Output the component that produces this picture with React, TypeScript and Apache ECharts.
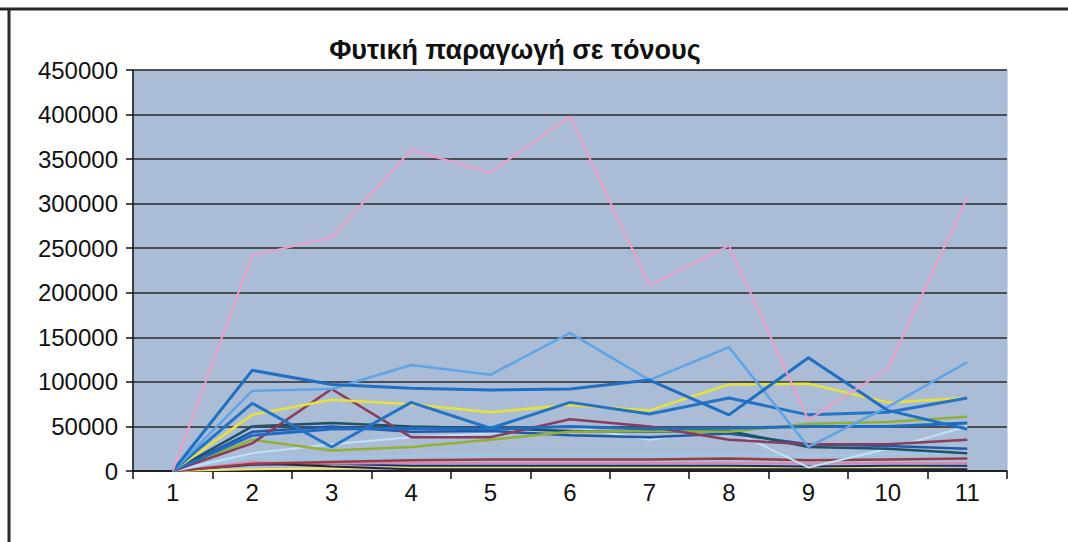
import React, { useEffect, useRef } from "react";
import * as echarts from "echarts";

const categories = ["1", "2", "3", "4", "5", "6", "7", "8", "9", "10", "11"];
const yTicks = [0, 50000, 100000, 150000, 200000, 250000, 300000, 350000, 400000, 450000];

const pinkSeries = [0, 242000, 262000, 360000, 335000, 398000, 208000, 253000, 57000, 115000, 307000];
const blueTop = [0, 113000, 97000, 93000, 91000, 92000, 102000, 63000, 127000, 68000, 47000];
const skyBlue = [0, 90000, 92000, 119000, 108000, 155000, 102000, 139000, 27000, 72000, 122000];
const yellowSeries = [0, 63000, 80000, 75000, 66000, 74000, 68000, 97000, 98000, 77000, 82000];
const blueZigzag = [0, 76000, 27000, 77000, 48000, 77000, 64000, 82000, 63000, 66000, 82000];
const maroonSeries = [0, 31000, 92000, 38000, 38000, 58000, 50000, 35000, 30000, 30000, 35000];
const greenSeries = [0, 35000, 23000, 27000, 35000, 44000, 45000, 44000, 53000, 55000, 61000];
const darkTeal = [0, 50000, 54000, 50000, 48000, 45000, 44000, 45000, 27000, 25000, 20000];
const mediumBlue = [0, 44000, 50000, 44000, 45000, 40000, 38000, 42000, 30000, 28000, 25000];
const blueMid = [0, 40000, 47000, 48000, 47000, 50000, 47000, 48000, 50000, 50000, 54000];
const paleCyan = [0, 20000, 30000, 38000, 42000, 50000, 35000, 47000, 4000, 25000, 50000];
const lowLightBlue = [0, 16000, 15000, 17000, 18000, 18000, 18000, 19000, 17000, 19000, 21000];
const lowMaroon = [0, 8000, 10000, 12000, 13000, 13000, 13000, 14000, 12000, 13000, 14000];
const lowPink = [0, 10000, 8000, 9000, 9000, 9000, 9000, 9000, 8000, 9000, 9000];
const lowBlack = [0, 9000, 5000, 2000, 2000, 2000, 2000, 2000, 2000, 2000, 2000];
const lowNavy = [0, 7000, 8000, 6000, 6000, 6000, 6000, 6000, 5000, 6000, 6000];
const lowYellow = [0, 2000, 3000, 4000, 4000, 4000, 4000, 4000, 3000, 4000, 6000];

const seriesDefs: { name: string; data: number[]; color: string; width: number }[] = [
  { name: "s1", data: lowYellow, color: "#f2e46a", width: 2 },
  { name: "s2", data: lowNavy, color: "#1c2c6c", width: 2 },
  { name: "s3", data: lowBlack, color: "#262626", width: 2 },
  { name: "s4", data: lowPink, color: "#d888b0", width: 2 },
  { name: "s5", data: lowMaroon, color: "#983c44", width: 2.5 },
  { name: "s6", data: lowLightBlue, color: "#9cc8ec", width: 2 },
  { name: "s7", data: paleCyan, color: "#bfe2f8", width: 2 },
  { name: "s8", data: mediumBlue, color: "#2258a8", width: 2.5 },
  { name: "s9", data: darkTeal, color: "#1e5264", width: 2.5 },
  { name: "s10", data: greenSeries, color: "#92b032", width: 2.5 },
  { name: "s11", data: maroonSeries, color: "#8a3c5c", width: 2.5 },
  { name: "s12", data: blueMid, color: "#1f6cc0", width: 3 },
  { name: "s13", data: yellowSeries, color: "#e8e03c", width: 2.5 },
  { name: "s14", data: blueZigzag, color: "#2474c6", width: 3 },
  { name: "s15", data: skyBlue, color: "#5ea4e6", width: 2.5 },
  { name: "s16", data: blueTop, color: "#1f70c2", width: 3 },
  { name: "s17", data: pinkSeries, color: "#ee9ec6", width: 2 },
];

export default function App() {
  const ref = useRef<HTMLDivElement>(null);
  useEffect(() => {
    if (!ref.current) return;
    const chart = echarts.init(ref.current, null, { renderer: "svg" });
    chart.setOption({
      animation: false,
      backgroundColor: "#ffffff",
      title: {
        text: "Φυτική παραγωγή σε τόνους",
        left: 510,
        textAlign: "center",
        top: 31,
        textStyle: {
          fontFamily: "Liberation Sans, Arial, sans-serif",
          fontSize: 27,
          fontWeight: "bold",
          color: "#111111",
        },
      },
      graphic: [
        { type: "line", shape: { x1: 0, y1: 9, x2: 1068, y2: 9 }, style: { stroke: "#2a2a2a", lineWidth: 3 } },
        { type: "line", shape: { x1: 9, y1: 9, x2: 9, y2: 542 }, style: { stroke: "#2a2a2a", lineWidth: 3 } },
      ],
      grid: {
        left: 133,
        right: 61,
        top: 70,
        bottom: 71,
        show: true,
        backgroundColor: "#abbcd6",
        borderColor: "#9fb4d2",
        borderWidth: 1,
      },
      xAxis: {
        type: "category",
        data: categories,
        boundaryGap: true,
        axisLine: { show: true, lineStyle: { color: "#111111", width: 1.5 } },
        axisTick: { show: true, length: 8, inside: false, lineStyle: { color: "#111111", width: 1.5 } },
        axisLabel: {
          margin: 9,
          fontFamily: "Liberation Sans, Arial, sans-serif",
          fontSize: 24,
          color: "#111111",
        },
        splitLine: { show: false },
      },
      yAxis: {
        type: "value",
        min: yTicks[0],
        max: yTicks[yTicks.length - 1],
        interval: 50000,
        axisLine: { show: true, lineStyle: { color: "#111111", width: 1.5 } },
        axisTick: { show: true, length: 7, lineStyle: { color: "#111111", width: 1.5 } },
        axisLabel: {
          margin: 15,
          fontFamily: "Liberation Sans, Arial, sans-serif",
          fontSize: 24,
          color: "#111111",
          formatter: (v: number) => String(v),
        },
        splitLine: { show: true, lineStyle: { color: "#2a2a2a", width: 1.5 } },
      },
      series: seriesDefs.map((s) => ({
        name: s.name,
        type: "line",
        data: s.data,
        symbol: "none",
        smooth: false,
        lineStyle: { color: s.color, width: s.width },
        itemStyle: { color: s.color },
      })),
    });
    return () => chart.dispose();
  }, []);
  return (
    <div
      ref={ref}
      style={{ position: "fixed", left: 0, top: 0, width: 1068, height: 542 }}
    />
  );
}
